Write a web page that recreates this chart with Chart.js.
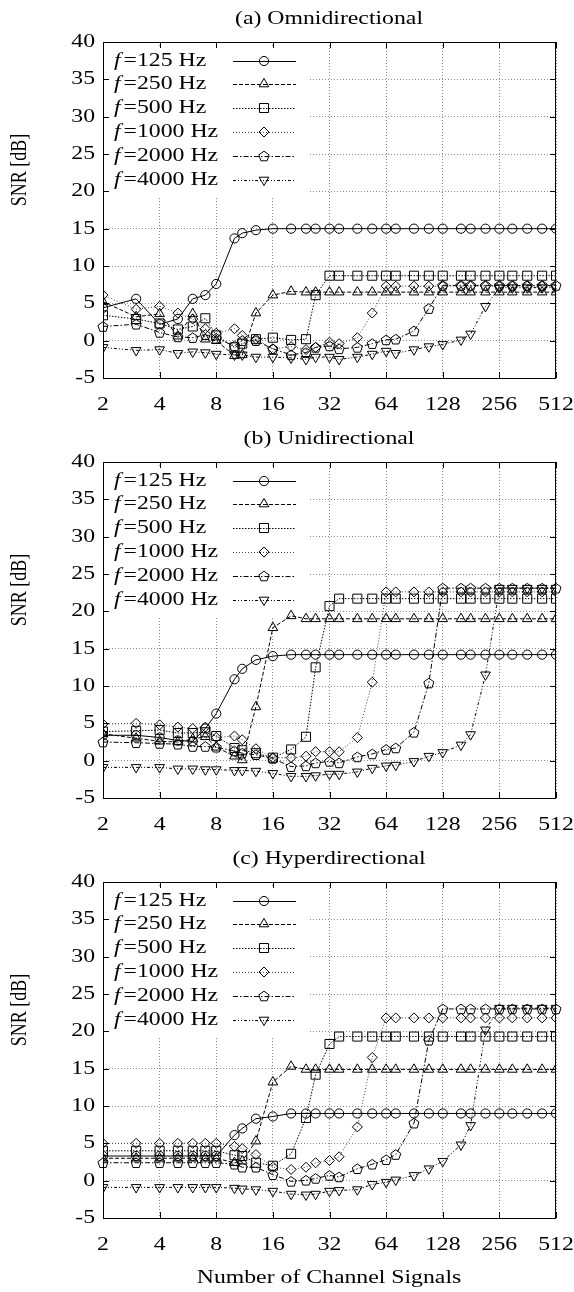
<!DOCTYPE html>
<html><head><meta charset="utf-8">
<script src="https://cdn.jsdelivr.net/npm/chart.js@4"></script>
<style>
html,body{margin:0;padding:0;background:#fff;width:574px;height:1292px;overflow:hidden}
.p{position:absolute;left:0;width:574px}
canvas{display:block}
</style></head><body>
<div class="p" style="top:0;height:420px"><canvas id="ca" width="574" height="420"></canvas></div>
<div class="p" style="top:420px;height:420px"><canvas id="cb" width="574" height="420"></canvas></div>
<div class="p" style="top:840px;height:452px"><canvas id="cc" width="574" height="452"></canvas></div>
<script>
// ---------- data ----------
const channels = [2,3,4,5,6,7,8,10,11,13,16,20,24,27,32,36,45,54,64,72,90,108,128,160,180,216,256,300,360,432,512];
const xTicks = [2,4,8,16,32,64,128,256,512];
const yTicks = [-5,0,5,10,15,20,25,30,35,40];
const freqLabels = ['125 Hz','250 Hz','500 Hz','1000 Hz','2000 Hz','4000 Hz'];
const panelTitles = ['(a) Omnidirectional','(b) Unidirectional','(c) Hyperdirectional'];

const omni125  = [4.4,5.6,2.2,2.9,5.6,6.1,7.6,13.7,14.4,14.8,15.0,15.0,15.0,15.0,15.0,15.0,15.0,15.0,15.0,15.0,15.0,15.0,15.0,15.0,15.0,15.0,15.0,15.0,15.0,15.0,15.0];
const omni250  = [5.2,3.2,3.6,0.6,3.6,0.2,0.0,-2.0,-1.9,3.7,6.1,6.6,6.5,6.5,6.5,6.5,6.5,6.5,6.5,6.5,6.5,6.5,6.5,6.5,6.5,6.5,6.5,6.5,6.5,6.5,6.5];
const omni500  = [3.4,2.9,2.3,1.5,1.9,3.0,0.7,-0.9,-0.4,0.2,0.4,0.1,0.2,6.1,8.7,8.7,8.7,8.7,8.7,8.7,8.7,8.7,8.7,8.7,8.7,8.7,8.7,8.7,8.7,8.7,8.7];
const omni1000 = [6.1,4.2,4.6,3.7,2.9,1.6,1.0,1.6,0.7,0.2,-1.1,-0.8,-1.2,-0.9,-0.2,-0.4,0.4,3.7,7.3,7.3,7.3,7.3,7.3,7.3,7.3,7.3,7.3,7.3,7.3,7.3,7.3];
const omni2000 = [1.9,2.2,1.1,0.5,0.4,0.8,0.3,-0.7,0.0,0.0,-1.1,-1.9,-1.6,-0.9,-0.7,-1.1,-0.9,-0.4,0.1,0.2,1.3,4.3,7.4,7.4,7.4,7.4,7.4,7.4,7.4,7.4,7.4];
const omni4000 = [-0.9,-1.3,-1.2,-1.7,-1.5,-1.6,-1.8,-1.9,-1.9,-2.2,-2.2,-2.3,-2.5,-2.2,-2.2,-2.5,-2.2,-1.8,-1.4,-1.7,-1.2,-0.8,-0.5,0.1,0.9,4.6,7.1,7.1,7.1,7.1,7.1];

const uni125  = [3.4,3.4,3.1,2.7,2.6,4.3,6.3,10.9,12.3,13.5,14.0,14.2,14.2,14.2,14.2,14.2,14.2,14.2,14.2,14.2,14.2,14.2,14.2,14.2,14.2,14.2,14.2,14.2,14.2,14.2,14.2];
const uni250  = [3.6,3.0,2.6,2.5,2.9,3.2,1.8,0.6,0.1,7.2,17.8,19.4,19.0,19.0,19.0,19.0,19.0,19.0,19.0,19.0,19.0,19.0,19.0,19.0,19.0,19.0,19.0,19.0,19.0,19.0,19.0];
const uni500  = [3.9,4.0,4.1,3.7,3.7,3.8,3.3,1.7,1.4,1.0,0.4,1.5,3.2,12.5,20.7,21.7,21.7,21.7,21.7,21.7,21.7,21.7,21.7,21.7,21.7,21.7,21.7,21.7,21.7,21.7,21.7];
const uni1000 = [4.9,5.0,4.8,4.5,4.3,4.5,3.1,3.3,2.8,1.6,0.4,0.4,0.6,1.2,1.2,1.2,3.1,10.5,22.6,22.6,22.6,22.6,22.6,22.6,22.6,22.6,22.6,22.6,22.6,22.6,22.6];
const uni2000 = [2.5,2.4,2.3,2.2,1.9,1.9,1.8,1.3,1.0,0.8,0.3,-0.8,-0.7,-0.3,-0.1,-0.3,0.5,0.9,1.5,1.7,3.8,10.4,23.1,23.1,23.1,23.1,23.1,23.1,23.1,23.1,23.1];
const uni4000 = [-0.9,-0.9,-0.9,-1.1,-1.1,-1.2,-1.2,-1.3,-1.3,-1.4,-1.7,-2.1,-2.1,-2.0,-1.8,-1.8,-1.5,-1.0,-0.7,-0.6,-0.1,0.6,1.1,2.1,3.5,11.5,23.1,23.1,23.1,23.1,23.1];

const hyper125  = [3.3,3.3,3.3,3.3,3.3,3.3,3.3,6.1,7.0,8.3,8.6,9.0,9.0,9.0,9.0,9.0,9.0,9.0,9.0,9.0,9.0,9.0,9.0,9.0,9.0,9.0,9.0,9.0,9.0,9.0,9.0];
const hyper250  = [3.0,3.0,3.0,3.0,3.0,3.0,3.0,2.4,2.6,5.3,13.2,15.3,14.9,14.9,14.9,14.9,14.9,14.9,14.9,14.9,14.9,14.9,14.9,14.9,14.9,14.9,14.9,14.9,14.9,14.9,14.9];
const hyper500  = [4.0,4.0,4.0,4.0,4.0,4.0,4.0,3.4,3.3,2.4,2.0,3.6,8.4,14.2,18.3,19.3,19.3,19.3,19.3,19.3,19.3,19.3,19.3,19.3,19.3,19.3,19.3,19.3,19.3,19.3,19.3];
const hyper1000 = [5.0,5.0,5.0,5.0,5.0,5.0,5.0,4.6,4.3,3.5,1.8,1.5,1.8,2.4,2.7,3.2,7.2,16.5,21.8,21.8,21.8,21.8,21.8,21.8,21.8,21.8,21.8,21.8,21.8,21.8,21.8];
const hyper2000 = [2.4,2.4,2.4,2.4,2.4,2.4,2.4,2.2,1.8,1.8,0.8,-0.1,0.05,0.3,0.7,0.5,1.6,2.2,2.8,3.5,7.7,18.8,23.0,23.0,23.0,23.0,23.0,23.0,23.0,23.0,23.0];
const hyper4000 = [-0.9,-0.9,-0.9,-0.9,-0.9,-0.9,-0.9,-1.0,-1.1,-1.2,-1.4,-1.8,-1.9,-1.8,-1.4,-1.3,-1.2,-0.5,-0.2,0.1,0.7,1.6,2.6,4.8,7.4,20.2,23.1,23.1,23.1,23.1,23.1];

// ---------- styles ----------
const SERIF = '"Liberation Serif","Times New Roman",serif';
const FS = 19;     // font size
const SX = 1.25;   // horizontal text stretch
const seriesStyles = [
  {dash:[],           color:'#000', point:'circle',   r:4.6, rot:0},
  {dash:[4,2],        color:'#000', point:'triangle', r:5.6, rot:0},
  {dash:[1.5,1.5],    color:'#000', point:'rect',     r:6.4, rot:0},
  {dash:[1,2],        color:'#444', point:'rectRot',  r:5.0, rot:0},
  {dash:[5,2,1.5,2],  color:'#000', point:'pentagon', r:5.3, rot:0},
  {dash:[3,2,1,2,1,2],color:'#000', point:'triangle', r:5.6, rot:180},
];

function drawMarker(ctx, st, x, y){
  ctx.save(); ctx.setLineDash([]); ctx.strokeStyle='#000'; ctx.lineWidth=1;
  const r=st.r;
  ctx.beginPath();
  if(st.point==='circle'){ ctx.arc(x,y,r,0,Math.PI*2); }
  else if(st.point==='rect'){ const s=r*Math.SQRT1_2; ctx.rect(x-s,y-s,2*s,2*s); }
  else if(st.point==='rectRot'){ ctx.moveTo(x,y-r); ctx.lineTo(x+r,y); ctx.lineTo(x,y+r); ctx.lineTo(x-r,y); ctx.closePath(); }
  else if(st.point==='pentagon'){
    for(let i=0;i<5;i++){const an=-Math.PI/2+i*2*Math.PI/5; const px=x+r*Math.cos(an), py=y+0.5+r*Math.sin(an); if(i) ctx.lineTo(px,py); else ctx.moveTo(px,py);}
    ctx.closePath();
  }
  else if(st.point==='triangle'){
    let a=st.rot*Math.PI/180;
    for(let i=0;i<3;i++){ const px=x+Math.sin(a)*r, py=y-Math.cos(a)*r; if(i) ctx.lineTo(px,py); else ctx.moveTo(px,py); a+=2*Math.PI/3; }
    ctx.closePath();
  }
  ctx.stroke(); ctx.restore();
}

function buildDatasets(seriesList){
  return seriesList.map((vals,i)=>{
    const st=seriesStyles[i];
    const custom = st.point==='pentagon';
    return {
      label:'f='+freqLabels[i],
      data: channels.map((c,j)=>({x:c,y:vals[j]})),
      borderColor: st.color, borderWidth:1, borderDash: st.dash,
      pointStyle: custom ? 'circle' : st.point, pointRadius: custom ? 0 : st.r, pointRotation: st.rot,
      pointBorderColor:'#000', pointBorderWidth:1, pointBackgroundColor:'rgba(0,0,0,0)',
      tension:0, fill:false
    };
  });
}

function textS(ctx, s, x, y, align){
  ctx.save(); ctx.translate(x,y); ctx.scale(SX,1); ctx.textAlign=align; ctx.fillText(s,0,0); ctx.restore();
}

function overlay(panel){
  return {
    id:'overlay'+panel.idx,
    beforeDatasetsDraw(chart){
      const ctx=chart.ctx, a=chart.chartArea;
      ctx.save(); ctx.fillStyle='#fff';
      ctx.fillRect(a.left+1, a.top+4, 309-a.left-1, 150);
      ctx.restore();
    },
    afterDatasetsDraw(chart){
      const ctx=chart.ctx;
      chart.data.datasets.forEach((ds,i)=>{
        const st=seriesStyles[i];
        if(st.point!=='pentagon') return;
        chart.getDatasetMeta(i).data.forEach(pt=>drawMarker(ctx, st, pt.x, pt.y));
      });
    },
    afterDraw(chart){
      const ctx=chart.ctx, a=chart.chartArea, xs=chart.scales.x, ys=chart.scales.y;
      ctx.save();
      ctx.strokeStyle='#000'; ctx.lineWidth=1; ctx.setLineDash([]);
      ctx.strokeRect(Math.round(a.left)+0.5, Math.round(a.top)+0.5, Math.round(a.right-a.left)-1, Math.round(a.bottom-a.top));
      ctx.beginPath();
      xTicks.forEach(v=>{ const x=Math.round(xs.getPixelForValue(v))+0.5;
        ctx.moveTo(x,a.bottom); ctx.lineTo(x,a.bottom-6); ctx.moveTo(x,a.top); ctx.lineTo(x,a.top+6); });
      yTicks.forEach(v=>{ const y=Math.round(ys.getPixelForValue(v))+0.5;
        ctx.moveTo(a.left,y); ctx.lineTo(a.left+6,y); ctx.moveTo(a.right,y); ctx.lineTo(a.right-6,y); });
      ctx.stroke();
      ctx.fillStyle='#000'; ctx.font=FS+'px '+SERIF; ctx.textBaseline='middle';
      xTicks.forEach(v=>{ textS(ctx, String(v), xs.getPixelForValue(v), a.bottom+27, 'center'); });
      yTicks.forEach(v=>{ textS(ctx, String(v), a.left-8, ys.getPixelForValue(v), 'right'); });
      textS(ctx, panelTitles[panel.idx], 329, 19, 'center');
      // rotated y label (thickness stretched like the other text)
      ctx.save(); ctx.font='18px '+SERIF; ctx.translate(20,170); ctx.rotate(-Math.PI/2); ctx.scale(1,SX);
      ctx.textAlign='center'; ctx.fillText('SNR [dB]',0,0); ctx.restore();
      if(panel.xlabel){ textS(ctx, 'Number of Channel Signals', 329, a.bottom+60, 'center'); }
      const rows=[61,84,108,132,156,180];
      rows.forEach((ry,i)=>{
        ctx.font='italic '+FS+'px '+SERIF;
        textS(ctx,'f',114,ry,'left');
        const w=ctx.measureText('f').width*SX;
        ctx.font=FS+'px '+SERIF;
        textS(ctx,'='+freqLabels[i],114+w+3,ry,'left');
        const st=seriesStyles[i];
        ctx.save(); ctx.strokeStyle=st.color; ctx.lineWidth=1; ctx.setLineDash(st.dash);
        ctx.beginPath(); ctx.moveTo(233,ry+0.5); ctx.lineTo(296,ry+0.5); ctx.stroke(); ctx.restore();
        drawMarker(ctx, st, 264, ry);
      });
      ctx.restore();
    }
  };
}

function makeChart(id, seriesList, panel, h){
  const xAxisH = h - 378;
  new Chart(document.getElementById(id), {
    type:'line',
    data:{datasets: buildDatasets(seriesList)},
    options:{
      responsive:false, animation:false, devicePixelRatio:1,
      layout:{padding:{top:42,right:18,left:0,bottom:0}},
      plugins:{legend:{display:false}, tooltip:{enabled:false}, title:{display:false}},
      scales:{
        x:{type:'logarithmic', min:2, max:512,
           afterBuildTicks:s=>{ s.ticks = xTicks.map(v=>({value:v})); },
           ticks:{display:false},
           grid:{color:'#8c8c8c', lineWidth:1, drawTicks:false},
           border:{display:false, dash:[1,2]},
           afterFit:s=>{ s.height = xAxisH; }},
        y:{type:'linear', min:-5, max:40,
           afterBuildTicks:s=>{ s.ticks = yTicks.map(v=>({value:v})); },
           ticks:{display:false},
           grid:{color:'#8c8c8c', lineWidth:1, drawTicks:false},
           border:{display:false, dash:[1,2]},
           afterFit:s=>{ s.width = 103; }}
      }
    },
    plugins:[overlay(panel)]
  });
}

makeChart('ca',[omni125,omni250,omni500,omni1000,omni2000,omni4000],{idx:0,xlabel:false},420);
makeChart('cb',[uni125,uni250,uni500,uni1000,uni2000,uni4000],{idx:1,xlabel:false},420);
makeChart('cc',[hyper125,hyper250,hyper500,hyper1000,hyper2000,hyper4000],{idx:2,xlabel:true},452);
</script>
</body></html>
